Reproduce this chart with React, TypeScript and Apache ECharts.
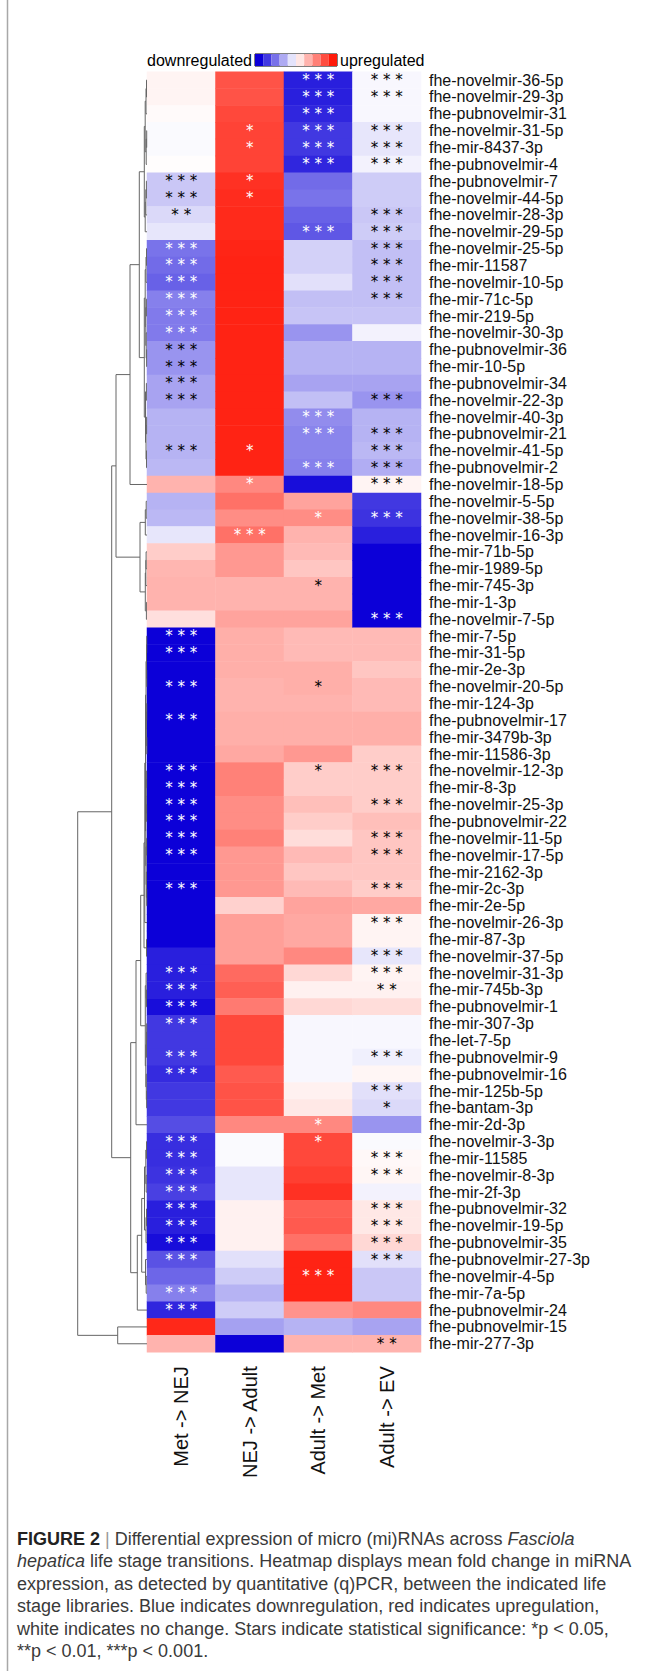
import React, { useEffect, useRef } from 'react';
import * as echarts from 'echarts';

const FONT = "'Liberation Sans', Arial, Helvetica, sans-serif";
const STAR_FONT = "'DejaVu Sans', 'Liberation Sans', sans-serif";

const ROWS = [
  'fhe-novelmir-36-5p', 'fhe-novelmir-29-3p', 'fhe-pubnovelmir-31', 'fhe-novelmir-31-5p', 'fhe-mir-8437-3p',
  'fhe-pubnovelmir-4', 'fhe-pubnovelmir-7', 'fhe-novelmir-44-5p', 'fhe-novelmir-28-3p', 'fhe-novelmir-29-5p',
  'fhe-novelmir-25-5p', 'fhe-mir-11587', 'fhe-novelmir-10-5p', 'fhe-mir-71c-5p', 'fhe-mir-219-5p',
  'fhe-novelmir-30-3p', 'fhe-pubnovelmir-36', 'fhe-mir-10-5p', 'fhe-pubnovelmir-34', 'fhe-novelmir-22-3p',
  'fhe-novelmir-40-3p', 'fhe-pubnovelmir-21', 'fhe-novelmir-41-5p', 'fhe-pubnovelmir-2', 'fhe-novelmir-18-5p',
  'fhe-novelmir-5-5p', 'fhe-novelmir-38-5p', 'fhe-novelmir-16-3p', 'fhe-mir-71b-5p', 'fhe-mir-1989-5p',
  'fhe-mir-745-3p', 'fhe-mir-1-3p', 'fhe-novelmir-7-5p', 'fhe-mir-7-5p', 'fhe-mir-31-5p',
  'fhe-mir-2e-3p', 'fhe-novelmir-20-5p', 'fhe-mir-124-3p', 'fhe-pubnovelmir-17', 'fhe-mir-3479b-3p',
  'fhe-mir-11586-3p', 'fhe-novelmir-12-3p', 'fhe-mir-8-3p', 'fhe-novelmir-25-3p', 'fhe-pubnovelmir-22',
  'fhe-novelmir-11-5p', 'fhe-novelmir-17-5p', 'fhe-mir-2162-3p', 'fhe-mir-2c-3p', 'fhe-mir-2e-5p',
  'fhe-novelmir-26-3p', 'fhe-mir-87-3p', 'fhe-novelmir-37-5p', 'fhe-novelmir-31-3p', 'fhe-mir-745b-3p',
  'fhe-pubnovelmir-1', 'fhe-mir-307-3p', 'fhe-let-7-5p', 'fhe-pubnovelmir-9', 'fhe-pubnovelmir-16',
  'fhe-mir-125b-5p', 'fhe-bantam-3p', 'fhe-mir-2d-3p', 'fhe-novelmir-3-3p', 'fhe-mir-11585',
  'fhe-novelmir-8-3p', 'fhe-mir-2f-3p', 'fhe-pubnovelmir-32', 'fhe-novelmir-19-5p', 'fhe-pubnovelmir-35',
  'fhe-pubnovelmir-27-3p', 'fhe-novelmir-4-5p', 'fhe-mir-7a-5p', 'fhe-pubnovelmir-24', 'fhe-pubnovelmir-15',
  'fhe-mir-277-3p',
];

const COLUMNS = ['Met -> NEJ', 'NEJ -> Adult', 'Adult -> Met', 'Adult -> EV'];

const MET_NEJ = [
  0.05, 0.05, 0.02, -0.02, -0.02, 0.01, -0.22, -0.22, -0.15, -0.1,
  -0.55, -0.58, -0.62, -0.5, -0.52, -0.52, -0.42, -0.42, -0.36, -0.36,
  -0.3, -0.3, -0.3, -0.28, 0.33, -0.3, -0.28, -0.1, 0.22, 0.32,
  0.33, 0.33, 0.14, -1, -1, -1, -1, -1, -1, -1,
  -1, -1, -1, -1, -1, -1, -1, -1, -1, -1,
  -1, -1, -0.88, -0.88, -0.88, -0.95, -0.78, -0.78, -0.78, -0.83,
  -0.78, -0.78, -0.7, -0.82, -0.82, -0.8, -0.75, -0.88, -0.88, -0.95,
  -0.68, -0.6, -0.5, -0.85, 0.94, 0.33,
];

const NEJ_ADULT = [
  0.75, 0.75, 0.8, 0.82, 0.82, 0.82, 0.9, 0.92, 0.93, 0.93,
  0.95, 0.96, 0.96, 0.96, 0.96, 0.96, 0.96, 0.96, 0.96, 0.96,
  0.96, 0.96, 0.96, 0.96, 0.52, 0.62, 0.5, 0.62, 0.45, 0.45,
  0.33, 0.33, 0.4, 0.35, 0.35, 0.35, 0.33, 0.33, 0.35, 0.35,
  0.38, 0.55, 0.55, 0.5, 0.5, 0.55, 0.45, 0.45, 0.45, 0.2,
  0.42, 0.42, 0.42, 0.65, 0.7, 0.58, 0.8, 0.8, 0.8, 0.72,
  0.75, 0.75, 0.52, -0.02, -0.02, -0.1, -0.1, 0.06, 0.06, 0.06,
  -0.12, -0.2, -0.3, -0.2, -0.37, -1,
];

const ADULT_MET = [
  -0.88, -0.88, -0.85, -0.78, -0.78, -0.85, -0.58, -0.55, -0.62, -0.66,
  -0.18, -0.18, -0.12, -0.25, -0.23, -0.42, -0.3, -0.3, -0.36, -0.25,
  -0.45, -0.48, -0.48, -0.5, -0.95, 0.4, 0.5, 0.33, 0.3, 0.25,
  0.33, 0.33, 0.4, 0.3, 0.3, 0.35, 0.35, 0.33, 0.35, 0.35,
  0.45, 0.22, 0.22, 0.28, 0.22, 0.15, 0.3, 0.25, 0.3, 0.4,
  0.38, 0.38, 0.52, 0.17, 0.06, 0.17, -0.03, -0.03, -0.03, -0.03,
  0.06, 0.1, 0.52, 0.8, 0.8, 0.84, 0.9, 0.7, 0.72, 0.62,
  0.96, 0.96, 0.96, 0.47, -0.3, 0.33,
];

const ADULT_EV = [
  -0.03, -0.03, -0.03, -0.1, -0.1, -0.05, -0.2, -0.2, -0.22, -0.2,
  -0.25, -0.25, -0.25, -0.25, -0.23, -0.05, -0.3, -0.3, -0.36, -0.42,
  -0.3, -0.3, -0.28, -0.32, 0.05, -0.78, -0.8, -0.88, -1, -1,
  -1, -1, -1, 0.3, 0.3, 0.25, 0.3, 0.3, 0.35, 0.35,
  0.22, 0.22, 0.22, 0.22, 0.28, 0.25, 0.25, 0.25, 0.22, 0.38,
  0.05, 0.05, -0.1, 0.05, 0.06, 0.15, -0.03, -0.03, -0.06, 0.04,
  -0.12, -0.15, -0.42, -0.02, 0.03, 0.04, -0.05, 0.1, 0.1, 0.17,
  -0.12, -0.22, -0.22, 0.52, -0.36, 0.33,
];

const STARS_MET_NEJ = [
  '', '', '', '', '', '', '***', '***', '**', '',
  '***', '***', '***', '***', '***', '***', '***', '***', '***', '***',
  '', '', '***', '', '', '', '', '', '', '',
  '', '', '', '***', '***', '', '***', '', '***', '',
  '', '***', '***', '***', '***', '***', '***', '', '***', '',
  '', '', '', '***', '***', '***', '***', '', '***', '***',
  '', '', '', '***', '***', '***', '***', '***', '***', '***',
  '***', '', '***', '***', '', '',
];

const STARS_NEJ_ADULT = [
  '', '', '', '*', '*', '', '*', '*', '', '',
  '', '', '', '', '', '', '', '', '', '',
  '', '', '*', '', '*', '', '', '***', '', '',
  '', '', '', '', '', '', '', '', '', '',
  '', '', '', '', '', '', '', '', '', '',
  '', '', '', '', '', '', '', '', '', '',
  '', '', '', '', '', '', '', '', '', '',
  '', '', '', '', '', '',
];

const STARS_ADULT_MET = [
  '***', '***', '***', '***', '***', '***', '', '', '', '***',
  '', '', '', '', '', '', '', '', '', '',
  '***', '***', '', '***', '', '', '*', '', '', '',
  '*', '', '', '', '', '', '*', '', '', '',
  '', '*', '', '', '', '', '', '', '', '',
  '', '', '', '', '', '', '', '', '', '',
  '', '', '*', '*', '', '', '', '', '', '',
  '', '***', '', '', '', '',
];

const STARS_ADULT_EV = [
  '***', '***', '', '***', '***', '***', '', '', '***', '***',
  '***', '***', '***', '***', '', '', '', '', '', '***',
  '', '***', '***', '***', '***', '', '***', '', '', '',
  '', '', '***', '', '', '', '', '', '', '',
  '', '***', '', '***', '', '***', '***', '', '***', '',
  '***', '', '***', '***', '**', '', '', '', '***', '',
  '***', '*', '', '', '***', '***', '', '***', '***', '***',
  '***', '', '', '', '', '**',
];

// Row dendrogram: [merge height, left, right]; leaves are row indices.
type Tree = number | [number, Tree, Tree];
const CLUSTER_E: Tree = [2.7, [1.8, [1.0, [0.5, 0, 1], 2], [0.8, [0.3, 3, 4], 5]], [1.8, [1.2, [0.6, 6, 7], 8], 9]];
const CLUSTER_F: Tree = [2.7,
  [1.8, [1.0, [0.5, 10, 11], 12], [1.2, [0.6, 13, 14], [0.8, 15, [0.4, 16, 17]]]],
  [1.5, [0.6, 18, 19], [1.0, [0.4, 20, 21], [0.5, 22, 23]]]];
const CLUSTER_G: Tree = [7, [1.7, [0.8, 25, 26], 27], [1.7, [1.2, [0.9, 28, 29], 30], [0.6, 31, 32]]];
const CLUSTER_B: Tree = [31, [17, [7.7, CLUSTER_E, CLUSTER_F], 24], CLUSTER_G];
const CLUSTER_J1: Tree = [3,
  [2.2, [1.5,
    [1.0, [0.5, [0.3, 33, 34], [0.3, 35, 36]], [0.6, [0.3, 37, 38], [0.2, 39, 40]]],
    [1.2, [0.7, [0.4, 41, 42], [0.4, 43, 44]], [0.9, [0.4, 45, 46], [0.6, 47, [0.3, 48, 49]]]]], 50],
  [0.5, 51, 52]];
const CLUSTER_J2: Tree = [1.7, [0.9, 53, [0.5, 54, 55]], [1.2, [0.5, [0.3, 56, 57], 58], [0.7, 59, [0.4, 60, 61]]]];
const CLUSTER_K: Tree = [9.7,
  [5.3, [2.5, [1.2, [0.5, 63, 64], [0.8, 65, 66]], [1.0, [0.5, 67, 68], 69]], [1.5, 70, [0.8, 71, 72]]],
  73];
const CLUSTER_H: Tree = [16.3, [11, [6.3, CLUSTER_J1, CLUSTER_J2], 62], CLUSTER_K];
const DENDROGRAM: Tree = [69.3, [35.3, CLUSTER_B, CLUSTER_H], [29.3, 74, 75]];

const LEGEND_TEXT = ['downregulated', 'upregulated'];

const CAPTION_LINES = [
  '{b|FIGURE 2} {s||} Differential expression of micro (mi)RNAs across {i|Fasciola}',
  '{i|hepatica} life stage transitions. Heatmap displays mean fold change in miRNA',
  'expression, as detected by quantitative (q)PCR, between the indicated life',
  'stage libraries. Blue indicates downregulation, red indicates upregulation,',
  'white indicates no change. Stars indicate statistical significance: *p < 0.05,',
  '**p < 0.01, ***p < 0.001.',
];

const VALUES = [MET_NEJ, NEJ_ADULT, ADULT_MET, ADULT_EV];
const STARS = [STARS_MET_NEJ, STARS_NEJ_ADULT, STARS_ADULT_MET, STARS_ADULT_EV];
const COLORS = ['#0c00d8', '#ffffff', '#ff1a0a'];

function layoutTree(t: Tree, out: number[][]): [number, number] {
  if (typeof t === 'number') return [0, t + 0.5];
  const [h, l, r] = t;
  const a = layoutTree(l, out);
  const b = layoutTree(r, out);
  out.push([a[0], a[1], h, b[1], b[0]]);
  return [h, (a[1] + b[1]) / 2];
}

function buildOption() {
  const heatData: any[] = [];
  VALUES.forEach((col, j) => {
    col.forEach((v, i) => {
      heatData.push({
        value: [j, i, v],
        label: { color: Math.abs(v) >= 0.44 ? '#ffffff' : '#000000' },
      });
    });
  });
  const segs: number[][] = [];
  layoutTree(DENDROGRAM, segs);

  const top = 71.7;
  const height = 1280.5;

  // colour-bar frame (legend decoration)
  const barX = 255, barY = 54, barW = 82, barH = 12;
  const ticks = [1, 2, 3, 4, 5].map((k) => ({
    type: 'line', silent: true,
    shape: { x1: barX + (barW * k) / 6, y1: barY + barH, x2: barX + (barW * k) / 6, y2: barY + barH - 4 },
    style: { stroke: '#000', lineWidth: 1 },
  }));

  return {
    animation: false,
    backgroundColor: '#ffffff',
    textStyle: { fontFamily: FONT },
    grid: [
      { left: 147, top, width: 274, height },
      { left: 8, top, width: 139, height },
    ],
    xAxis: [
      {
        type: 'category', gridIndex: 0, data: COLUMNS, position: 'bottom',
        axisLine: { show: false }, axisTick: { show: false }, splitLine: { show: false },
        axisLabel: { rotate: 90, fontSize: 20, color: '#111', margin: 14, fontFamily: FONT, interval: 0 },
      },
      { type: 'value', gridIndex: 1, min: 0, max: 139, inverse: true, show: false },
    ],
    yAxis: [
      {
        type: 'category', gridIndex: 0, data: ROWS, inverse: true, position: 'right',
        axisLine: { show: false }, axisTick: { show: false }, splitLine: { show: false },
        axisLabel: { fontSize: 16, color: '#111', margin: 8, interval: 0, fontFamily: FONT },
      },
      { type: 'value', gridIndex: 1, min: 0, max: 76, inverse: true, show: false },
    ],
    visualMap: [
      {
        type: 'continuous', show: false, seriesIndex: 0, dimension: 2, min: -1, max: 1,
        inRange: { color: COLORS },
      },
      {
        type: 'piecewise', show: true, seriesIndex: 2, min: -1, max: 1, splitNumber: 10,
        orient: 'horizontal', left: barX, top: barY, itemWidth: barW / 10, itemHeight: barH, itemGap: 0,
        itemSymbol: 'rect', padding: 0, showLabel: false, selectedMode: false, hoverLink: false,
        inRange: { color: COLORS },
      },
    ],
    series: [
      {
        type: 'heatmap', xAxisIndex: 0, yAxisIndex: 0, data: heatData,
        itemStyle: { borderWidth: 0 },
        emphasis: { disabled: true },
        label: {
          show: true, fontSize: 15, fontFamily: STAR_FONT, lineHeight: 6, padding: [6, 0, 0, 0],
          formatter: (p: any) => {
            const s = STARS[p.value[0]][p.value[1]];
            return s ? s.split('').join(' ') : '';
          },
        },
      },
      {
        type: 'custom', xAxisIndex: 1, yAxisIndex: 1, silent: true, data: segs,
        encode: { x: [0, 2, 4], y: [1, 3] },
        renderItem: (_params: any, api: any) => {
          const pts = [
            api.coord([api.value(0), api.value(1)]),
            api.coord([api.value(2), api.value(1)]),
            api.coord([api.value(2), api.value(3)]),
            api.coord([api.value(4), api.value(3)]),
          ];
          return { type: 'polyline', shape: { points: pts }, style: { stroke: '#666', lineWidth: 1, fill: null } };
        },
      },
      { type: 'scatter', xAxisIndex: 0, yAxisIndex: 0, data: [], silent: true },
    ],
    graphic: [
      { type: 'line', shape: { x1: 7.5, y1: 0, x2: 7.5, y2: 1671 }, style: { stroke: '#a8a8a8', lineWidth: 1.5 }, silent: true },
      {
        type: 'text', x: barX - 3, y: barY + barH / 2, silent: true,
        style: { text: LEGEND_TEXT[0], fontSize: 16, fontFamily: FONT, fill: '#000', align: 'right', verticalAlign: 'middle' },
      },
      {
        type: 'text', x: barX + barW + 3, y: barY + barH / 2, silent: true,
        style: { text: LEGEND_TEXT[1], fontSize: 16, fontFamily: FONT, fill: '#000', align: 'left', verticalAlign: 'middle' },
      },
      { type: 'rect', shape: { x: barX, y: barY, width: barW, height: barH }, style: { fill: 'none', stroke: '#000', lineWidth: 1 }, silent: true },
      ...ticks,
      ...CAPTION_LINES.map((line, k) => ({
        type: 'text', left: 17, top: 1530 + k * 22.4, silent: true,
        style: {
          text: line, fontSize: 18, fontFamily: FONT, fill: '#3a3a3a',
          rich: {
            b: { fontSize: 18, fontFamily: FONT, fontWeight: 'bold', fill: '#222' },
            i: { fontSize: 18, fontFamily: FONT, fontStyle: 'italic', fill: '#3a3a3a' },
            s: { fontSize: 18, fontFamily: FONT, fill: '#999' },
          },
        },
      })),
    ],
  };
}

export default function App() {
  const ref = useRef<HTMLDivElement>(null);
  useEffect(() => {
    if (!ref.current) return;
    const chart = echarts.init(ref.current, null, { renderer: 'svg' });
    chart.setOption(buildOption() as any);
    return () => chart.dispose();
  }, []);
  return (
    <div
      ref={ref}
      style={{ position: 'absolute', left: 0, top: 0, width: 650, height: 1671, background: '#fff' }}
    />
  );
}
